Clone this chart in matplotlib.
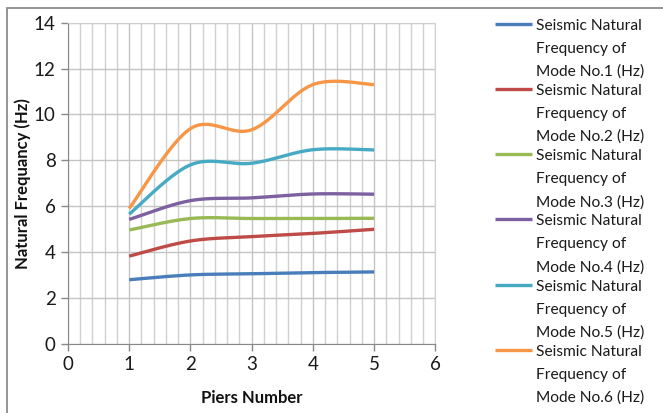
import numpy as np
import matplotlib
matplotlib.use("Agg")
import matplotlib.pyplot as plt
from matplotlib.lines import Line2D
from matplotlib.patches import Rectangle

plt.rcParams["font.family"] = ["Lato", "DejaVu Sans"]

piers = [1, 2, 3, 4, 5]
mode1 = [2.79, 3.00, 3.05, 3.10, 3.13]
mode2 = [3.82, 4.48, 4.67, 4.81, 4.99]
mode3 = [4.96, 5.46, 5.46, 5.46, 5.47]
mode4 = [5.42, 6.24, 6.36, 6.53, 6.52]
mode5 = [5.65, 7.80, 7.87, 8.46, 8.45]
mode6 = [5.90, 9.38, 9.33, 11.30, 11.30]

series = [mode1, mode2, mode3, mode4, mode5, mode6]
labels = ["Seismic Natural\nFrequency of\nMode No.%d (Hz)" % (i + 1) for i in range(6)]
colors = ["#4A7EBB", "#BE4B48", "#98B954", "#7D60A0", "#46AAC5", "#F79646"]


def smooth(x, y, n=40):
    # Excel-style smoothed line: cubic Bezier segments with Catmull-Rom controls
    x = np.asarray(x, float)
    y = np.asarray(y, float)
    px = np.concatenate([[x[0]], x, [x[-1]]])
    py = np.concatenate([[y[0]], y, [y[-1]]])
    xs, ys = [], []
    t = np.linspace(0, 1, n)
    for i in range(len(x) - 1):
        p0 = np.array([px[i + 1], py[i + 1]])
        p3 = np.array([px[i + 2], py[i + 2]])
        c1 = p0 + (np.array([px[i + 2], py[i + 2]]) - np.array([px[i], py[i]])) / 6
        c2 = p3 - (np.array([px[i + 3], py[i + 3]]) - np.array([px[i + 1], py[i + 1]])) / 6
        b = ((1 - t) ** 3)[:, None] * p0 + (3 * (1 - t) ** 2 * t)[:, None] * c1 \
            + (3 * (1 - t) * t ** 2)[:, None] * c2 + (t ** 3)[:, None] * p3
        xs.append(b[:, 0])
        ys.append(b[:, 1])
    return np.concatenate(xs), np.concatenate(ys)


fig = plt.figure(figsize=(6.63, 4.13), dpi=100)
ax = fig.add_axes([68 / 663, 1 - 343.7 / 413, (435.3 - 68) / 663, (343.7 - 22.7) / 413])

for vals, c in zip(series, colors):
    sx, sy = smooth(piers, vals)
    ax.plot(sx, sy, color=c, lw=2.4, solid_capstyle="butt", zorder=3)

ax.set_xlim(0, 6)
ax.set_ylim(0, 14)
ax.set_xticks(range(0, 7))
ax.set_yticks(range(0, 15, 2))
ax.set_xticks(np.arange(0, 6.01, 0.2), minor=True)
ax.grid(True, which="major", color="#c4c4c4", lw=1.0, zorder=0)
ax.grid(True, which="minor", axis="x", color="#d0d0d0", lw=1.0, zorder=0)
ax.tick_params(which="minor", length=0)
ax.tick_params(which="major", length=5, width=1, color="#888888",
               labelsize=13.5, labelcolor="#1a1a1a", pad=4)
for s in ["top", "right"]:
    ax.spines[s].set_color("#d0d0d0")
for s in ["left", "bottom"]:
    ax.spines[s].set_color("#888888")
ax.set_axisbelow(True)

ax.set_xlabel("Piers Number", fontsize=12, fontweight="bold", labelpad=12, color="#111111")
ax.set_ylabel("Natural Frequancy (Hz)", fontsize=12, fontweight="bold", labelpad=2, color="#111111")

# chart frame
fig.add_artist(Rectangle((7 / 663, -0.05), 1.0, 1 - 8 / 413 + 0.05, transform=fig.transFigure,
                         fill=False, edgecolor="#8c8c8c", lw=1.3))

# legend, handle next to the first line of each entry
for i, (lab, c) in enumerate(zip(labels, colors)):
    yy = 1 - (23.5 + i * 65.3) / 413
    fig.add_artist(Line2D([495 / 663, 532 / 663], [yy, yy], transform=fig.transFigure,
                          color=c, lw=2.4, solid_capstyle="butt"))
    for j, line in enumerate(lab.split("\n")):
        fig.text(536 / 663, yy - (2 + j * 23) / 413, line, fontsize=11.2, va="center",
                 ha="left", color="#1a1a1a")

fig.savefig("out.png", dpi=100)
